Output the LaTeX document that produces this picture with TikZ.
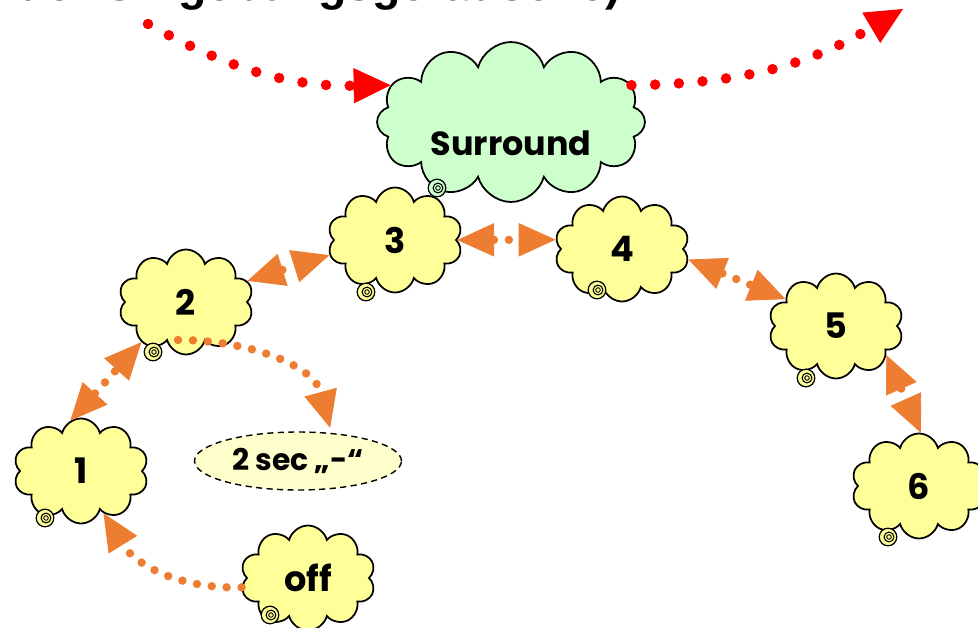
\documentclass[tikz,border=0pt]{standalone}
\usepackage{fontspec}
\setsansfont{Poppins}
\newfontfamily\headfont{Liberation Sans}
\usetikzlibrary{shapes.symbols, shapes.geometric, arrows.meta, positioning}

\definecolor{cloudyellow}{HTML}{FFFF99}
\definecolor{cloudgreen}{HTML}{CCFFCC}
\definecolor{secfill}{HTML}{FFFFCC}
\definecolor{arroworange}{HTML}{ED7D31}
\definecolor{arrowred}{HTML}{FF0000}

\tikzset{
  thought/.style={cloud, cloud puffs=10, cloud ignores aspect, draw, line width=1pt,
    fill=cloudyellow, minimum width=2.7cm, minimum height=2.1cm,
    font=\sffamily\bfseries\fontsize{20}{24}\selectfont},
  orangedots/.style={draw=arroworange, line width=4.8pt, line cap=round,
    dash pattern=on 0pt off 8.5pt},
  reddots/.style={draw=arrowred, line width=6pt, line cap=round,
    dash pattern=on 0pt off 13.5pt, >={Triangle[length=21pt,width=20pt,line width=0.5pt]}},
}

\begin{document}
\begin{tikzpicture}[x=0.02cm, y=0.02cm,
  >={Triangle[length=21pt,width=19pt,line width=0.5pt]}]
\useasboundingbox (0,0) rectangle (978,627);
\clip (0,0) rectangle (978,627);

\node[anchor=base east, font=\headfont\bfseries\fontsize{26.5}{30}\selectfont]
  (headline) at (627,627) {e der Umgebungsgeräusche)};

% clouds
\node[thought, fill=cloudgreen, cloud puffs=12, minimum width=5.36cm, minimum height=3.2cm,
  font=\sffamily\bfseries\fontsize{19}{23}\selectfont]
  (sur) at (511,505) {\raisebox{-0.67cm}[0pt][0pt]{Surround}};
\node[thought] (c3) at (395,387) {3};
\node[thought] (c4) at (622,378) {4};
\node[thought] (c2) at (186,325) {2};
\node[thought] (c5) at (836,301) {5};
\node[thought] (c1) at (81,156) {1};
\node[thought] (c6) at (919,141) {6};
\node[thought] (off) at (308,49) {off};
\node[ellipse, draw, line width=0.8pt, dash pattern=on 3.5pt off 2.5pt, fill=secfill,
  minimum width=4.14cm, minimum height=1.16cm,
  font=\sffamily\bfseries\fontsize{17}{20}\selectfont] (sec) at (298,166) {2 sec „-“};

% little bubbles of the thought clouds
\foreach \n/\dx/\dy/\col in {sur/-74/-66/cloudgreen, c3/-29/-52/cloudyellow,
    c4/-25/-41/cloudyellow, c2/-33/-50/cloudyellow, c5/-30/-52/cloudyellow,
    c1/-36/-47/cloudyellow, c6/-31/-51/cloudyellow, off/-38/-37/cloudyellow} {
  \draw[line width=0.7pt, fill=\col] ([shift={(\dx,\dy)}]\n.center) circle[radius=5pt];
  \draw[line width=0.6pt] ([shift={(\dx+1,\dy)}]\n.center) circle[radius=2.8pt];
  \draw[line width=0.5pt] ([shift={(\dx+1,\dy)}]\n.center) circle[radius=1.3pt];
}

\coordinate (inL) at (148,603);
\coordinate (outR) at (903,618);

% red arrows
\draw[reddots, ->] (inL) to[bend right=15] (sur.163);
\draw[reddots, ->] (sur.17) to[bend right=15] (outR);

% orange arrows
\draw[orangedots, ->] (off.188) to[bend left=30] (c1.-62);
\draw[orangedots, <->] (c1.102) -- (c2.222);
\draw[orangedots, <->] (c2.19) -- (c3.193);
\draw[orangedots, <->] (c3.east) -- (c4.172);
\draw[orangedots, <->] (c4.-9) -- (c5.152);
\draw[orangedots, <->] (c5.-30) -- (c6.88);
\draw[orangedots, ->, shorten >=3pt] ([shift={(-8,-38)}]c2.center) to[out=0, in=105] (sec.40);
\end{tikzpicture}
\end{document}
